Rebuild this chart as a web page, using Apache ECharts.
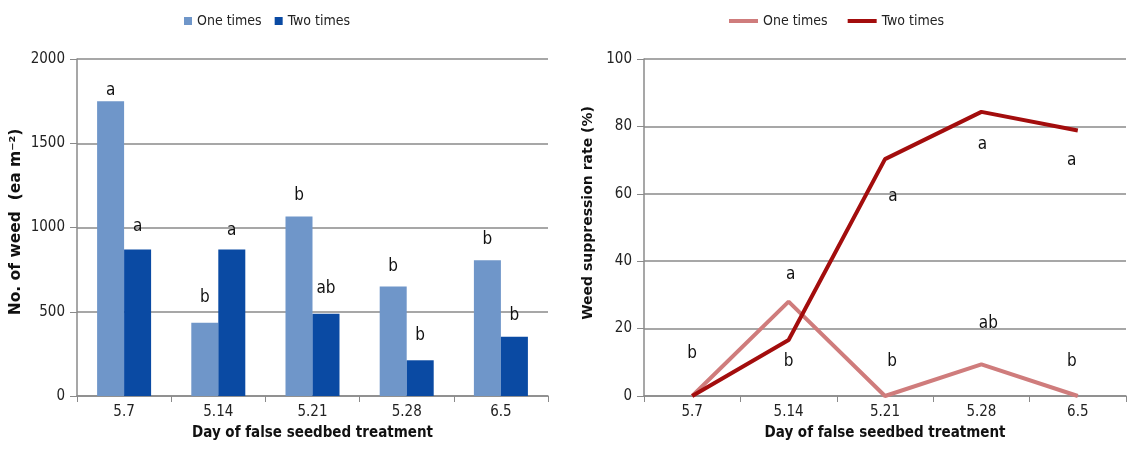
<!DOCTYPE html>
<html>
<head>
<meta charset="utf-8">
<script src="https://cdn.jsdelivr.net/npm/echarts@6/dist/echarts.min.js"></script>
<style>html,body{margin:0;padding:0;background:#fff}#c{width:1128px;height:467px}</style>
</head>
<body>
<div id="c"></div>
<script>
// ---- data ----
const categories = ['5.7', '5.14', '5.21', '5.28', '6.5'];
const weedOne = [1750, 435, 1065, 650, 805];
const weedTwo = [870, 870, 488, 212, 352];
const weedLettersOne = ['a', 'b', 'b', 'b', 'b'];
const weedLettersTwo = ['a', 'a', 'ab', 'b', 'b'];
const suppOne = [0, 28, 0, 9.4, 0];
const suppTwo = [0, 16.6, 70.3, 84.3, 78.8];
const suppLettersOne = ['b', 'a', 'b', 'ab', 'b'];
const suppLettersTwo = ['', 'b', 'a', 'a', 'a'];
const leftTitle = 'No. of weed  (ea m\u207B\u00B2)';
const rightTitle = 'Weed suppression rate (%)';
const xTitle = 'Day of false seedbed treatment';

// ---- styles ----
const FONT = "'DejaVu Sans Condensed', Roboto, sans-serif";
const BOLDY = "'DejaVu Sans', Verdana, sans-serif";
const cOneBar = '#6f96c9', cTwoBar = '#0a4aa3';
const cOneLine = '#cf7c7c', cTwoLine = '#a30d0d';
const grey = '#8a8a8a';
const barOffsets = [[0, 10], [0, -5], [0, 0], [0, 1], [0, 0]];
const barOffsets2 = [[0, -2], [0, 2], [0, -5], [0, -4], [0, -1]];
const lineOffOne = [[0, -42], [2, -27], [7, -34], [7, -41], [-6, -34]];
const lineOffTwo = [[0, 0], [0, 22], [8, 37], [1, 33], [-6, 30]];

const letterStyle = {fontFamily: FONT, fontSize: 17, color: '#111'};

function barData(vals, letters, offs) {
  return vals.map((v, i) => ({
    value: v,
    label: {show: true, position: 'top', distance: 12, formatter: letters[i], offset: offs[i], ...letterStyle}
  }));
}
function lineData(vals, letters, offs) {
  return vals.map((v, i) => ({
    value: v,
    label: {show: letters[i] !== '', position: 'inside', formatter: letters[i] || ' ', offset: offs[i], ...letterStyle}
  }));
}

function xAx(gi) {
  return {
    type: 'category', gridIndex: gi, data: categories,
    name: xTitle, nameLocation: 'middle', nameGap: 30,
    nameTextStyle: {fontFamily: FONT, fontWeight: 'bold', fontSize: 15, color: '#111'},
    axisLine: {lineStyle: {color: grey, width: 1.5}},
    axisTick: {show: true, length: 6, lineStyle: {color: grey}},
    axisLabel: {fontFamily: FONT, fontSize: 15, color: '#222', margin: 9}
  };
}
function yAx(gi, max, interval) {
  return {
    type: 'value', gridIndex: gi, min: 0, max: max, interval: interval,
    axisLine: {show: true, lineStyle: {color: grey, width: 1.5}},
    axisTick: {show: true, length: 7, lineStyle: {color: grey}},
    axisLabel: {fontFamily: FONT, fontSize: 15, color: '#222', margin: 12, formatter: v => String(v)},
    splitLine: {lineStyle: {color: grey, width: 1.5}}
  };
}
function vTitle(x, y, text, size) {
  return {type: 'text', x: x, y: y, rotation: Math.PI / 2,
    style: {text: text, fontFamily: BOLDY, fontWeight: 'bold', fontSize: size, fill: '#111',
            align: 'center', verticalAlign: 'middle'}};
}

const chart = echarts.init(document.getElementById('c'));
chart.setOption({
  animation: false,
  legend: [
    {left: 179, top: 9, itemWidth: 8, itemHeight: 8, itemGap: 13,
     textStyle: {fontFamily: FONT, fontSize: 14, color: '#222'},
     data: [{name: 'One times', icon: 'rect'}, {name: 'Two times', icon: 'rect'}]},
    {left: 724, top: 9, itemWidth: 29, itemHeight: 4, itemGap: 16,
     textStyle: {fontFamily: FONT, fontSize: 14, color: '#222'},
     data: [{name: 'One times ', icon: 'rect'}, {name: 'Two times ', icon: 'rect'}]}
  ],
  grid: [
    {left: 77, right: 580, top: 59, bottom: 71},
    {left: 644, right: 2, top: 59, bottom: 71}
  ],
  graphic: [vTitle(16, 222, leftTitle, 15.5), vTitle(588, 213, rightTitle, 14)],
  xAxis: [xAx(0), xAx(1)],
  yAxis: [yAx(0, 2000, 500), yAx(1, 100, 20)],
  series: [
    {name: 'One times', type: 'bar', xAxisIndex: 0, yAxisIndex: 0, barWidth: 27, barGap: '0%',
     itemStyle: {color: cOneBar}, data: barData(weedOne, weedLettersOne, barOffsets)},
    {name: 'Two times', type: 'bar', xAxisIndex: 0, yAxisIndex: 0, barWidth: 27, barGap: '0%',
     itemStyle: {color: cTwoBar}, data: barData(weedTwo, weedLettersTwo, barOffsets2)},
    {name: 'One times ', type: 'line', xAxisIndex: 1, yAxisIndex: 1, symbol: 'circle', symbolSize: 0.1,
     lineStyle: {color: cOneLine, width: 4}, itemStyle: {color: cOneLine}, z: 3,
     data: lineData(suppOne, suppLettersOne, lineOffOne)},
    {name: 'Two times ', type: 'line', xAxisIndex: 1, yAxisIndex: 1, symbol: 'circle', symbolSize: 0.1,
     lineStyle: {color: cTwoLine, width: 4}, itemStyle: {color: cTwoLine}, z: 4,
     data: lineData(suppTwo, suppLettersTwo, lineOffTwo)}
  ]
});
</script>
</body>
</html>
